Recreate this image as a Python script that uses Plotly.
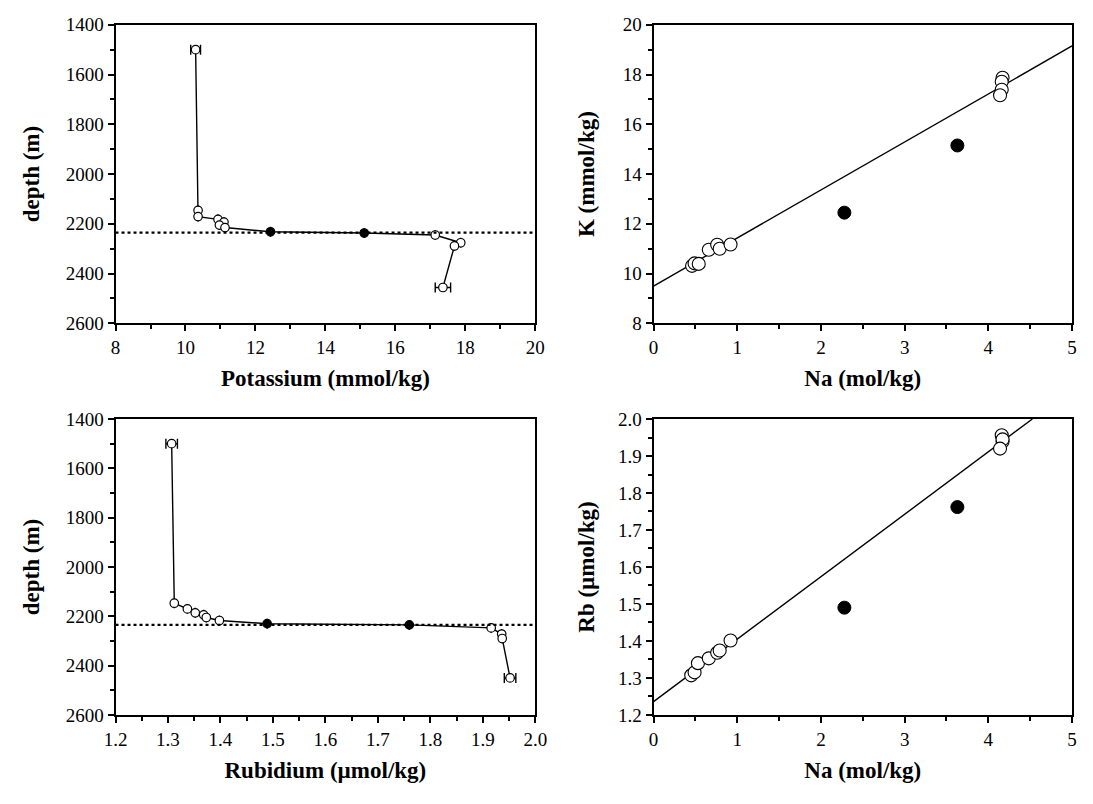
import plotly.graph_objects as go

# ---------------- data ----------------
depth_K = [1500, 2146, 2171, 2182, 2193, 2205, 2215, 2232, 2237, 2245, 2276, 2289, 2456]
K_profile = [10.29, 10.36, 10.36, 10.93, 11.10, 10.97, 11.13, 12.43, 15.11, 17.14, 17.87, 17.69, 17.36]
K_err = [0.14, 0, 0, 0, 0, 0, 0, 0, 0, 0, 0, 0, 0.22]

depth_Rb = [1500, 2147, 2170, 2186, 2194, 2205, 2217, 2230, 2235, 2247, 2272, 2290, 2450]
Rb_profile = [1.307, 1.312, 1.337, 1.352, 1.368, 1.373, 1.398, 1.489, 1.760, 1.916, 1.936, 1.937, 1.952]
Rb_err = [0.011, 0, 0, 0, 0, 0, 0, 0, 0, 0, 0, 0, 0.011]

filled_flags = [0, 0, 0, 0, 0, 0, 0, 1, 1, 0, 0, 0, 0]

Na_open_K = [0.46, 0.49, 0.54, 0.66, 0.76, 0.79, 0.92, 4.17, 4.16, 4.16, 4.14]
K_open = [10.31, 10.41, 10.39, 10.96, 11.16, 11.00, 11.17, 17.87, 17.71, 17.39, 17.17]
Na_filled_K = [2.28, 3.63]
K_filled = [12.45, 15.15]

Na_open_Rb = [0.45, 0.49, 0.53, 0.66, 0.76, 0.79, 0.92, 4.16, 4.17, 4.17, 4.14]
Rb_open = [1.307, 1.315, 1.340, 1.353, 1.368, 1.374, 1.401, 1.956, 1.939, 1.945, 1.920]
Na_filled_Rb = [2.28, 3.63]
Rb_filled = [1.49, 1.762]

K_fit = (9.5, 1.93)        # intercept, slope
Rb_fit = (1.236, 0.1688)
interface_depth = 2235

FONT = "Liberation Serif"

fig = go.Figure()

colors_K = ["black" if f else "white" for f in filled_flags]

# ---- top-left: K profile
fig.add_trace(go.Scatter(
    x=K_profile, y=depth_K, mode="lines+markers", xaxis="x", yaxis="y",
    line=dict(color="black", width=1.4),
    marker=dict(size=8.5, color=colors_K, line=dict(color="black", width=1.2)),
    error_x=dict(type="data", array=K_err, color="black", thickness=1.4, width=5),
    showlegend=False))

# ---- top-right: K vs Na
xk = [0, 5]
fig.add_trace(go.Scatter(
    x=xk, y=[K_fit[0] + K_fit[1] * v for v in xk], mode="lines",
    xaxis="x2", yaxis="y2", line=dict(color="black", width=1.4), showlegend=False))
fig.add_trace(go.Scatter(
    x=Na_open_K, y=K_open, mode="markers", xaxis="x2", yaxis="y2",
    marker=dict(size=13, color="white", line=dict(color="black", width=1.1)),
    showlegend=False))
fig.add_trace(go.Scatter(
    x=Na_filled_K, y=K_filled, mode="markers", xaxis="x2", yaxis="y2",
    marker=dict(size=13, color="black", line=dict(color="black", width=1)),
    showlegend=False))

# ---- bottom-left: Rb profile
fig.add_trace(go.Scatter(
    x=Rb_profile, y=depth_Rb, mode="lines+markers", xaxis="x3", yaxis="y3",
    line=dict(color="black", width=1.4),
    marker=dict(size=8.5, color=colors_K, line=dict(color="black", width=1.2)),
    error_x=dict(type="data", array=Rb_err, color="black", thickness=1.4, width=5),
    showlegend=False))

# ---- bottom-right: Rb vs Na
x_end = (2.0 - Rb_fit[0]) / Rb_fit[1]
xr = [0, x_end]
fig.add_trace(go.Scatter(
    x=xr, y=[Rb_fit[0] + Rb_fit[1] * v for v in xr], mode="lines",
    xaxis="x4", yaxis="y4", line=dict(color="black", width=1.4), showlegend=False))
fig.add_trace(go.Scatter(
    x=Na_open_Rb, y=Rb_open, mode="markers", xaxis="x4", yaxis="y4",
    marker=dict(size=13, color="white", line=dict(color="black", width=1.1)),
    showlegend=False))
fig.add_trace(go.Scatter(
    x=Na_filled_Rb, y=Rb_filled, mode="markers", xaxis="x4", yaxis="y4",
    marker=dict(size=13, color="black", line=dict(color="black", width=1)),
    showlegend=False))

# dotted interface lines
for yref, xref in (("y", "x"), ("y3", "x3")):
    fig.add_shape(type="line", xref=f"{xref} domain", yref=yref,
                  x0=0, x1=1, y0=interface_depth, y1=interface_depth,
                  line=dict(color="black", width=2.2, dash="dot"))

# page body has an 8 px margin; the figure is sized to fit inside the window
OFF = 8
W, H = 1093 - 2 * OFF, 804 - 2 * OFF

def dx(a, b):
    return [(a - OFF) / W, (b - OFF) / W]

def dy(top, bot):
    return [1 - (bot - OFF) / H, 1 - (top - OFF) / H]

tickfont = dict(family=FONT, size=19, color="black")
titlefont = dict(family=FONT, size=23, color="black")

def ax(domain, rng, dtick, minor_dtick, title, anchor, fmt=None, standoff=13):
    d = dict(domain=domain, range=rng, dtick=dtick, tick0=0,
             showgrid=False, zeroline=False, showline=True, linecolor="black",
             linewidth=2, mirror=True, ticks="outside", ticklen=6, tickwidth=1.6,
             tickcolor="black", tickfont=tickfont,
             minor=dict(dtick=minor_dtick, ticks="outside", ticklen=4, tickwidth=1.6,
                        tickcolor="black", showgrid=False),
             title=dict(text=f"<b>{title}</b>", font=titlefont, standoff=standoff),
             anchor=anchor)
    if fmt:
        d["tickformat"] = fmt
    return d

xL = dx(105.7, 535)
xR = dx(656, 1084)
yT = dy(15, 321.7)
yB = dy(420, 724)

fig.update_layout(
    width=W, height=H, margin=dict(l=0, r=0, t=0, b=0),
    paper_bgcolor="white", plot_bgcolor="white",
    font=dict(family=FONT, color="black"),
    xaxis=ax(xL, [8, 20], 2, 1, "Potassium (mmol/kg)", "y"),
    yaxis=ax(yT, [2600, 1400], 200, 100, "depth (m)", "x", standoff=20),
    xaxis2=ax(xR, [0, 5], 1, 0.5, "Na (mol/kg)", "y2"),
    yaxis2=ax(yT, [8, 20], 2, 1, "K (mmol/kg)", "x2", standoff=22),
    xaxis3=ax(xL, [1.2, 2.0], 0.1, 0.05, "Rubidium (µmol/kg)", "y3", fmt=".1f"),
    yaxis3=ax(yB, [2600, 1400], 200, 100, "depth (m)", "x3", standoff=20),
    xaxis4=ax(xR, [0, 5], 1, 0.5, "Na (mol/kg)", "y4"),
    yaxis4=ax(yB, [1.2, 2.0], 0.1, 0.05, "Rb (µmol/kg)", "x4", fmt=".1f", standoff=17),
)

fig.write_html("out.html")
